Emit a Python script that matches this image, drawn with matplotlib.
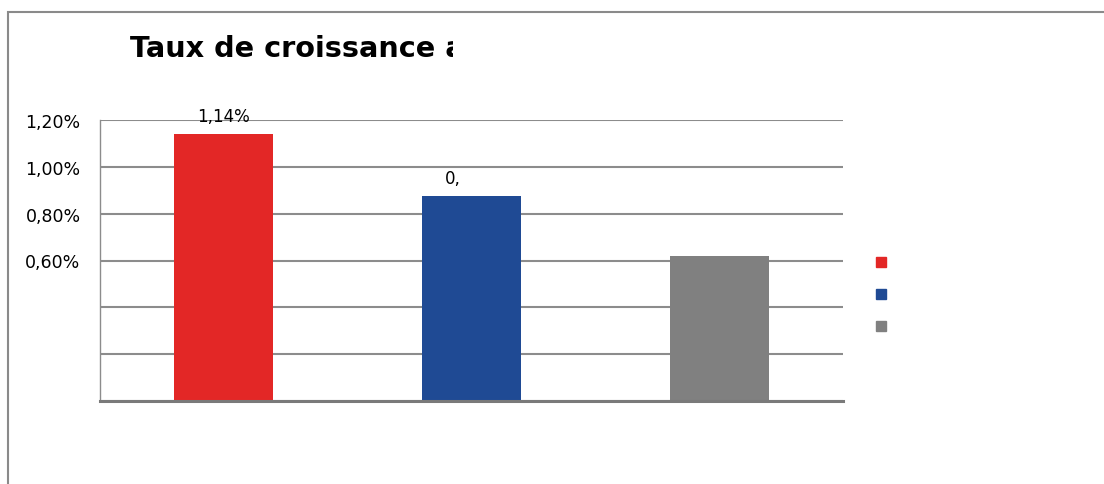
import matplotlib
matplotlib.use("Agg")
import matplotlib.pyplot as plt
from matplotlib.patches import Rectangle
from matplotlib.transforms import Bbox

plt.rcParams['font.family'] = ['DejaVu Sans']

# data
categories = ['A', 'B', 'C']
values = [1.14, 0.875, 0.62]
colors = ['#E32726', '#1F4A94', '#808080']
bar_labels = ['1,14%', '0,88%', '0,62%']
label_clip_px = [1104, 459, 0]   # the source cuts these labels off
ytick_vals = [0.0, 0.2, 0.4, 0.6, 0.8, 1.0, 1.2]
ytick_labels = ['', '', '', '0,60%', '0,80%', '1,00%', '1,20%']

W, H = 1104, 485
fig = plt.figure(figsize=(W / 100, H / 100), dpi=100)

# outer frame (cut on the right and bottom)
fig.add_artist(Rectangle((8 / W, -0.1), 1.2, 1 - 13 / H + 0.1,
                         transform=fig.transFigure, fill=False,
                         edgecolor='#8a8a8a', linewidth=1.5))

ax = fig.add_axes([100 / W, 1 - 402 / H, 743 / W, 281 / H])
x = range(len(categories))
ax.bar(x, values, width=0.4, color=colors, zorder=3)
ax.set_xlim(-0.5, 2.5)
ax.set_ylim(0, 1.2)
ax.set_yticks(ytick_vals)
ax.set_yticklabels(ytick_labels, fontsize=12.5)
ax.set_xticks([])
ax.tick_params(axis='y', length=0, pad=14)
ax.grid(axis='y', color='#8c8c8c', linewidth=1.5, zorder=0)
for s in ['top', 'right']:
    ax.spines[s].set_visible(False)
ax.spines['left'].set_color('#8c8c8c')
ax.spines['left'].set_linewidth(1.0)
ax.spines['bottom'].set_color('#7a7a7a')
ax.spines['bottom'].set_linewidth(2.2)
ax.spines['bottom'].set_zorder(4)

for xi, v, lab, cx in zip(x, values, bar_labels, label_clip_px):
    t = ax.text(xi, v + 0.04, lab, ha='center', va='bottom', fontsize=12)
    t.set_clip_on(True)
    t.set_clip_box(Bbox.from_extents(0, 0, cx, H))

# title, clipped like in the source
t = fig.text(130 / W, 1 - 57 / H, 'Taux de croissance annuel', fontsize=20.7,
             fontweight='bold', ha='left', va='baseline')
t.set_clip_on(True)
t.set_clip_box(Bbox.from_extents(0, 0, 453, H))

# legend markers without text
for i, c in enumerate(colors):
    y0 = 258 + 32 * i
    fig.add_artist(Rectangle((876 / W, 1 - (y0 + 10) / H), 10 / W, 10 / H,
                             transform=fig.transFigure, color=c))

fig.savefig('out.png', dpi=100)
